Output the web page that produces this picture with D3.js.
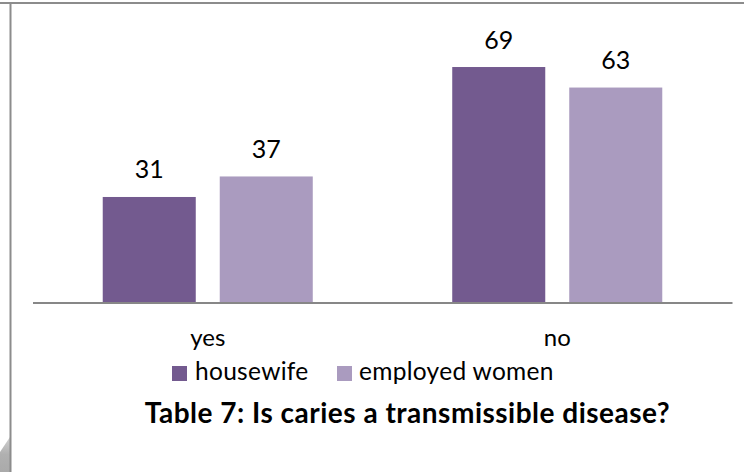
<!DOCTYPE html>
<html>
<head>
<meta charset="utf-8">
<script src="https://cdn.jsdelivr.net/npm/d3@7"></script>
<style>
  html, body { margin: 0; padding: 0; background: #fff; }
  svg { display: block; }
  text { font-family: Lato, "Open Sans", sans-serif; fill: #000; }
</style>
</head>
<body>
<svg id="chart" width="744" height="472"></svg>
<script>
// Survey answers by group
const categories = ["yes", "no"];
const seriesNames = ["housewife", "employed women"];
const housewife = [31, 69];
const employedWomen = [37, 63];
const seriesColors = ["#735a8f", "#aa9bbf"];
const title = "Table 7: Is caries a transmissible disease?";

const W = 744, H = 472;
const svg = d3.select("#chart");

// Frame: top rule, left rule and the corner shade
const defs = svg.append("defs");
const grad = defs.append("linearGradient").attr("id", "shade")
  .attr("x1", "0").attr("y1", "0").attr("x2", "0").attr("y2", "1");
grad.append("stop").attr("offset", "0").attr("stop-color", "#d0d0d0");
grad.append("stop").attr("offset", "0.5").attr("stop-color", "#b0b0b0");
grad.append("stop").attr("offset", "1").attr("stop-color", "#aaaaaa");
svg.append("path")
  .attr("d", "M0,452 L10,437 L10,472 L0,472 Z")
  .attr("fill", "url(#shade)");
svg.append("line").attr("x1", 0).attr("x2", W).attr("y1", 3).attr("y2", 3)
  .attr("stroke", "#8c8c8c").attr("stroke-width", 2);
svg.append("line").attr("x1", 10.5).attr("x2", 10.5).attr("y1", 3).attr("y2", H)
  .attr("stroke", "#8c8c8c").attr("stroke-width", 2);

// Scales
const x0 = d3.scaleBand().domain(categories).range([33, 732]).paddingInner(0).paddingOuter(0);
const x1 = d3.scaleBand().domain(seriesNames).range([0, x0.bandwidth()])
  .paddingInner(0.205).paddingOuter(0.596);
const y = d3.scaleLinear().domain([0, 80]).range([303, 29.4]);

const rows = categories.map((c, i) => ({
  category: c,
  values: [
    { series: seriesNames[0], value: housewife[i], color: seriesColors[0] },
    { series: seriesNames[1], value: employedWomen[i], color: seriesColors[1] }
  ]
}));

const groups = svg.append("g").selectAll("g").data(rows).join("g")
  .attr("transform", d => `translate(${x0(d.category)},0)`);

groups.selectAll("rect").data(d => d.values).join("rect")
  .attr("x", d => x1(d.series))
  .attr("width", x1.bandwidth())
  .attr("y", d => y(d.value))
  .attr("height", d => y(0) - y(d.value))
  .attr("fill", d => d.color);

groups.selectAll("text.val").data(d => d.values).join("text")
  .attr("class", "val")
  .attr("x", d => x1(d.series) + x1.bandwidth() / 2)
  .attr("y", d => y(d.value) - 18.5)
  .attr("text-anchor", "middle")
  .style("font-size", "25px")
  .text(d => d.value);

// Category axis
const xAxis = svg.append("g").attr("transform", `translate(0,${y(0)})`)
  .call(d3.axisBottom(x0).tickSize(0).tickPadding(0));
xAxis.select(".domain").attr("stroke", "#878787").attr("stroke-width", 2)
  .attr("d", `M33,0H732.5`);
xAxis.selectAll("text")
  .attr("dy", null)
  .attr("y", 43)
  .style("font-size", "24px")
  .style("font-family", "Lato, 'Open Sans', sans-serif")
  .attr("fill", "#000");

// Legend
const legendItems = [
  { name: seriesNames[0], color: seriesColors[0], x: 172, tx: 195 },
  { name: seriesNames[1], color: seriesColors[1], x: 337, tx: 359 }
];
const legend = svg.append("g");
legend.selectAll("rect").data(legendItems).join("rect")
  .attr("x", d => d.x).attr("y", 366).attr("width", 15).attr("height", 15)
  .attr("fill", d => d.color);
legend.selectAll("text").data(legendItems).join("text")
  .attr("x", d => d.tx).attr("y", 380)
  .style("font-size", "24.5px")
  .style("letter-spacing", "0.3px")
  .text(d => d.name);

// Title
svg.append("text")
  .attr("x", 407.5).attr("y", 423)
  .attr("text-anchor", "middle")
  .style("font-size", "28px")
  .style("font-weight", "bold")
  .style("letter-spacing", "0.5px")
  .text(title);
</script>
</body>
</html>
